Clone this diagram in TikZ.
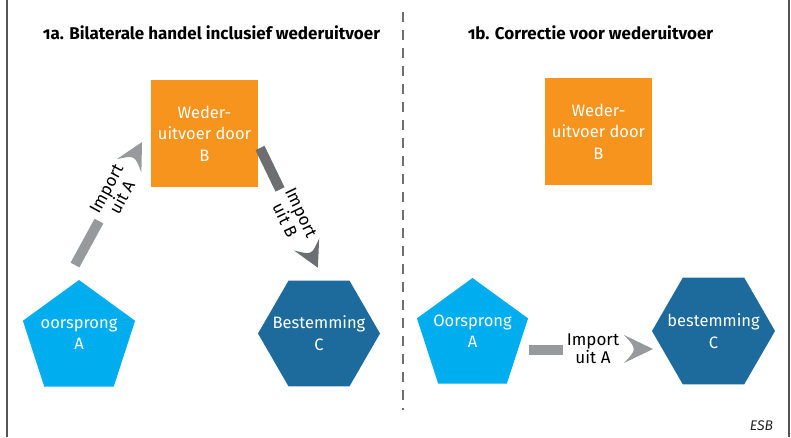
\documentclass[tikz,border=0pt]{standalone}
\usepackage{fontspec}
\setmainfont{Fira Sans}
\newfontfamily\titlefont{Fira Sans}[Numbers=OldStyle]
\usetikzlibrary{shapes.geometric}
\definecolor{esborange}{HTML}{F7941D}
\definecolor{esbcyan}{HTML}{00AEEF}
\definecolor{esbblue}{HTML}{1C6B9C}
\definecolor{lightarrow}{HTML}{98999C}
\definecolor{darkarrow}{HTML}{6D6E71}
\definecolor{framegray}{HTML}{555555}
\tikzset{
  titletext/.style={font=\titlefont\bfseries\fontsize{17}{19}\selectfont, text=black, inner sep=0pt},
  boxtext/.style={font=\fontsize{16.5}{21.5}\selectfont, text=white, align=center, inner sep=0pt},
  squarebox/.style={fill=esborange, minimum width=107pt, minimum height=107pt, inner sep=0pt, boxtext},
  pentabox/.style={regular polygon, regular polygon sides=5, fill=esbcyan, inner sep=0pt},
  hexabox/.style={regular polygon, regular polygon sides=6, fill=esbblue, inner sep=0pt},
  arrowtext/.style={font=\fontsize{17}{18}\selectfont, text=black, align=center, inner sep=0pt},
  shaft/.style={line width=10pt},
}
\begin{document}
\begin{tikzpicture}[x=1pt,y=1pt]
\useasboundingbox (0,0) rectangle (791,-437);
% frame lines
\draw[framegray, line width=1.2pt] (7,0) -- (7,-437);
\draw[framegray, line width=1.2pt] (789,0) -- (789,-437);
\draw[darkarrow, line width=1.8pt, dash pattern=on 10pt off 8pt] (403,-12) -- (403,-410);
% titles
\node[titletext] (t1) at (211.5,-33) {1a. Bilaterale handel inclusief wederuitvoer};
\node[titletext] (t2) at (590.5,-33) {1b. Correctie voor wederuitvoer};
% left panel
\node[squarebox] (sqL) at (204.5,-133.5) {Weder-\\uitvoer door\\B};
\node[pentabox, minimum size=118pt] (pentL) at (79,-339) {};
\node[boxtext] (pentLtext) at (79,-334) {oorsprong\\A};
\node[hexabox, minimum size=122pt] (hexL) at (319,-333.5) {};
\node[boxtext] (hexLtext) at (319,-333) {Bestemming\\C};
% arrow import uit A (left panel)
\coordinate (a1s) at (75,-265);
\begin{scope}[shift={(a1s)}, rotate=61.4]
  \draw[lightarrow, shaft] (0,0) -- (50,0);
  \fill[lightarrow] (140,0) -- (113,14) .. controls (125,0) .. (113,-14) -- cycle;
  \node[arrowtext, rotate=61.4] (a1txt) at (82,0) {Import\\uit A};
\end{scope}
% arrow import uit B (left panel)
\coordinate (a2s) at (260,-148);
\begin{scope}[shift={(a2s)}, rotate=-64.2]
  \draw[darkarrow, shaft] (0,0) -- (46,0);
  \fill[darkarrow] (133,0) -- (107,14) .. controls (119,0) .. (107,-14) -- cycle;
  \node[arrowtext, rotate=-64.2] (a2txt) at (76,0) {Import\\uit B};
\end{scope}
% right panel
\node[squarebox] (sqR) at (598.5,-131.5) {Weder-\\uitvoer door\\B};
\node[pentabox, minimum size=116.8pt] (pentR) at (472.5,-336.4) {};
\node[boxtext] (pentRtext) at (472.5,-331) {Oorsprong\\A};
\node[hexabox, minimum size=123pt] (hexR) at (713.5,-331) {};
\node[boxtext] (hexRtext) at (713.5,-331) {bestemming\\C};
\coordinate (a3s) at (529,-350);
\coordinate (a3e) at (563,-350);
\draw[lightarrow, shaft] (a3s) -- (a3e);
\node[arrowtext] (a3txt) at (593,-349) {Import\\uit A};
\fill[lightarrow] (653,-349) -- (624,-335) .. controls (637,-349) .. (624,-363) -- cycle;
% source
\node[font=\itshape\fontsize{14}{16}\selectfont, text=black!85, inner sep=0pt] (esb) at (761.5,-426) {ESB};
\end{tikzpicture}
\end{document}
